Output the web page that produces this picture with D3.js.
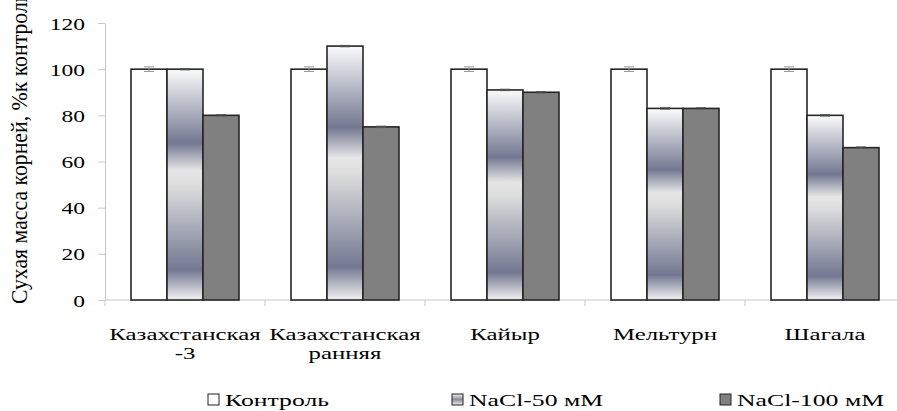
<!DOCTYPE html>
<html>
<head>
<meta charset="utf-8">
<script src="https://cdn.jsdelivr.net/npm/d3@7"></script>
<style>
  body { margin: 0; background: #fff; }
  svg text { font-family: "Liberation Serif", "Times New Roman", serif; fill: #000; }
</style>
</head>
<body>
<div id="chart"></div>
<script>
// data
var varieties = [["Казахстанская", "-3"], ["Казахстанская", "ранняя"], ["Кайыр"], ["Мельтурн"], ["Шагала"]];
var seriesNames = ["Контроль", "NaCl-50 мМ", "NaCl-100 мМ"];
var control = [100, 100, 100, 100, 100];
var nacl50 = [100, 110, 91, 83, 80];
var nacl100 = [80, 75, 90, 83, 66];
var errControl = [1, 1, 1, 1, 1];
var err50 = [0.3, 0.3, 0.3, 0.3, 0.3];
var err100 = [0.3, 0.3, 0.3, 0.3, 0.3];
var yTicks = [0, 20, 40, 60, 80, 100, 120];

var W = 897, H = 411;
var sx = 1.38; // picture is stretched sideways, so is the text

var svg = d3.select("#chart").append("svg")
    .attr("width", W)
    .attr("height", H);

// gradient of the 50 mM bars
var defs = svg.append("defs");
var grad = defs.append("linearGradient")
    .attr("id", "g50")
    .attr("x1", 0).attr("y1", 0).attr("x2", 0).attr("y2", 1);
[[0, "#fbfbfb"], [0.32, "#737891"], [0.44, "#e6e6e6"], [0.5, "#dedede"], [0.87, "#737891"], [1, "#f2f2f2"]]
  .forEach(function(s) { grad.append("stop").attr("offset", s[0]).attr("stop-color", s[1]); });
var gradL = defs.append("linearGradient")
    .attr("id", "g50l")
    .attr("x1", 0).attr("y1", 0).attr("x2", 0).attr("y2", 1);
[[0, "#f4f4f4"], [0.5, "#8a8ea0"], [1, "#f0f0f0"]]
  .forEach(function(s) { gradL.append("stop").attr("offset", s[0]).attr("stop-color", s[1]); });

var fills = ["#ffffff", "url(#g50)", "#808080"];
var legendFills = ["#ffffff", "url(#g50l)", "#808080"];

var x = d3.scaleBand()
    .domain(d3.range(varieties.length))
    .range([105, 905])
    .paddingInner(0.325)
    .paddingOuter(0.1625);

var xs = d3.scaleBand()
    .domain(d3.range(3))
    .range([0, x.bandwidth()]);

var y = d3.scaleLinear()
    .domain([0, 120])
    .range([300, 23]);

// y axis
var yAxis = svg.append("g")
    .attr("transform", "translate(105,0)")
    .call(d3.axisLeft(y).tickValues(yTicks).tickSize(7).tickPadding(0));
yAxis.select(".domain").attr("stroke", "#c8c8c8");
yAxis.selectAll(".tick line").attr("stroke", "#c8c8c8");
yAxis.selectAll(".tick text")
    .attr("x", null).attr("dy", null)
    .attr("font-size", 17)
    .attr("text-anchor", "end")
    .attr("transform", "translate(-20,6) scale(" + sx + ",1)")
    .style("font-family", "Liberation Serif")
    .attr("fill", "#000");

// x axis line and the ticks between groups
var step = x.step();
svg.append("line")
    .attr("x1", 105).attr("x2", W)
    .attr("y1", 300).attr("y2", 300)
    .attr("stroke", "#c8c8c8");
svg.selectAll(".xtick")
    .data(d3.range(varieties.length + 1))
  .enter().append("line")
    .attr("class", "xtick")
    .attr("x1", function(d) { return 105 + d * step; })
    .attr("x2", function(d) { return 105 + d * step; })
    .attr("y1", 300).attr("y2", 306)
    .attr("stroke", "#c8c8c8");

// bars
var allSeries = [control, nacl50, nacl100];
var allErr = [errControl, err50, err100];
var barData = [];
allSeries.forEach(function(vals, s) {
  vals.forEach(function(v, i) { barData.push({s: s, i: i, v: v, e: allErr[s][i]}); });
});

svg.selectAll(".bar")
    .data(barData)
  .enter().append("rect")
    .attr("class", "bar")
    .attr("x", function(d) { return x(d.i) + xs(d.s); })
    .attr("y", function(d) { return y(d.v); })
    .attr("width", xs.bandwidth())
    .attr("height", function(d) { return y(0) - y(d.v); })
    .attr("fill", function(d) { return fills[d.s]; })
    .attr("stroke", "#262626")
    .attr("stroke-width", 1.6);

// error bars
var eb = svg.selectAll(".err")
    .data(barData)
  .enter().append("g")
    .attr("class", "err")
    .attr("stroke", function(d) { return d.s == 0 ? "#9a9a9a" : "#555"; })
    .attr("stroke-width", 1);
eb.append("line")
    .attr("x1", function(d) { return x(d.i) + xs(d.s) + xs.bandwidth() / 2; })
    .attr("x2", function(d) { return x(d.i) + xs(d.s) + xs.bandwidth() / 2; })
    .attr("y1", function(d) { return y(d.v + d.e); })
    .attr("y2", function(d) { return y(d.v - d.e); });
eb.selectAll(".cap")
    .data(function(d) { return [d.v + d.e, d.v - d.e].map(function(v) { return {d: d, v: v}; }); })
  .enter().append("line")
    .attr("x1", function(c) { return x(c.d.i) + xs(c.d.s) + xs.bandwidth() / 2 - 5; })
    .attr("x2", function(c) { return x(c.d.i) + xs(c.d.s) + xs.bandwidth() / 2 + 5; })
    .attr("y1", function(c) { return y(c.v); })
    .attr("y2", function(c) { return y(c.v); });

// category labels
varieties.forEach(function(lines, i) {
  lines.forEach(function(t, k) {
    svg.append("text")
      .attr("transform", "translate(" + (x(i) + x.bandwidth() / 2) + "," + (340 + k * 19) + ") scale(1.46,1)")
      .attr("text-anchor", "middle")
      .attr("font-size", 17)
      .style("font-family", "Liberation Serif")
      .text(t);
  });
});

// y axis title, cut off at the top like in the picture
svg.append("text")
    .attr("transform", "translate(27,304) scale(" + sx + ",1) rotate(-90)")
    .attr("font-size", 16)
    .attr("textLength", 318)
    .attr("lengthAdjust", "spacingAndGlyphs")
    .style("font-family", "Liberation Serif")
    .text("Сухая масса корней, %к контролю");

// legend
var legX = [208, 452, 720];
seriesNames.forEach(function(n, s) {
  svg.append("rect")
    .attr("x", legX[s]).attr("y", 394)
    .attr("width", 11).attr("height", 11)
    .attr("fill", legendFills[s])
    .attr("stroke", "#222")
    .attr("stroke-width", 1);
  svg.append("text")
    .attr("transform", "translate(" + (legX[s] + 17) + ",406) scale(1.47,1)")
    .attr("font-size", 17.5)
    .style("font-family", "Liberation Serif")
    .text(n);
});
</script>
</body>
</html>
